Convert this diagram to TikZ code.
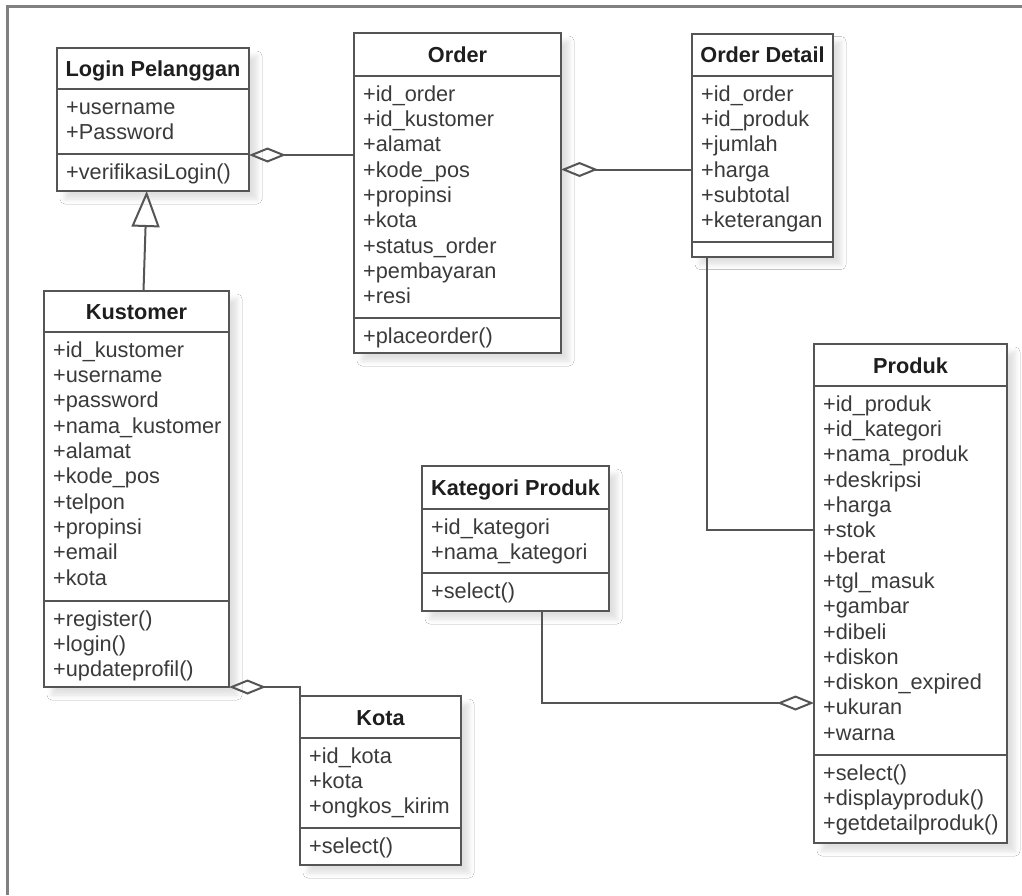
\documentclass[tikz,border=0pt]{standalone}
\usepackage{fontspec}
\setmainfont{Liberation Sans}
\usetikzlibrary{arrows.meta,fit,shadows.blur}

\definecolor{linec}{HTML}{555555}
\definecolor{framec}{HTML}{808080}
\definecolor{textc}{HTML}{3A3A3A}
\definecolor{titlec}{HTML}{1E1E1E}

\tikzset{
  classframe/.style={draw=linec, line width=2pt, fill=white, inner sep=0pt, outer sep=0pt,
    blur shadow={shadow xshift=8pt, shadow yshift=-8pt, shadow blur radius=5pt, shadow opacity=12}},
  classline/.style={draw=linec, line width=2pt},
  classtitle/.style={anchor=base, inner sep=0pt, font=\fontsize{21.7}{25.3}\selectfont\bfseries, text=titlec},
  classrow/.style={anchor=base west, inner sep=0pt, font=\fontsize{21.7}{25.3}\selectfont, text=textc},
  conn/.style={draw=linec, line width=2pt},
  framestyle/.style={draw=framec, line width=2.5pt},
  agg/.tip={Diamond[open, length=37pt, width=15pt]},
  gen/.tip={Triangle[open, length=36pt, width=28pt]},
}

% #1 name, #2 left, #3 top, #4 right, #5 bottom, #6 header rule, #7 operations rule, #8 title
\newcommand\umlclass[8]{%
  \node[classframe, fit={(#2,#3) (#4,#5)}] (#1) {};
  \draw[classline] (#2,#6) -- (#4,#6);
  \draw[classline] (#2,#7) -- (#4,#7);
  \node[classtitle] (#1-title) at ({(#2+#4)/2},{(#3+#6)/2+8}) {#8};
}
% #1 prefix, #2 left edge, #3 compartment top, #4 rows
\newcommand\umlrows[4]{%
  \foreach \rowtext [count=\i] in {#4}
    \node[classrow] (#1-\i) at ({#2+9},{#3+25.3*\i}) {\rowtext};
}

\begin{document}
\begin{tikzpicture}[x=1pt, y=-1pt]
  \useasboundingbox (0,0) rectangle (1022,895);
  \fill[white] (0,0) rectangle (1022,895);

  % outer frame (top and left edges)
  \draw[framestyle] (7.5,895) -- (7.5,6.5) -- (1022,6.5);

  % classes
  \umlclass{login}{57}{48}{249}{191}{89}{154}{Login Pelanggan}
  \umlrows{login-a}{57}{89}{+username,+Password}
  \umlrows{login-m}{57}{154}{+verifikasiLogin()}

  \umlclass{order}{354}{33}{561}{353}{76}{318}{Order}
  \umlrows{order-a}{354}{76}{+id\_order,+id\_kustomer,+alamat,+kode\_pos,+propinsi,+kota,+status\_order,+pembayaran,+resi}
  \umlrows{order-m}{354}{318}{+placeorder()}

  \umlclass{odetail}{692}{33.5}{833}{256.5}{76}{241.5}{Order Detail}
  \umlrows{odetail-a}{692}{76}{+id\_order,+id\_produk,+jumlah,+harga,+subtotal,+keterangan}

  \umlclass{kustomer}{44}{291}{229}{687}{332}{601}{Kustomer}
  \umlrows{kustomer-a}{44}{332}{+id\_kustomer,+username,+password,+nama\_kustomer,+alamat,+kode\_pos,+telpon,+propinsi,+email,+kota}
  \umlrows{kustomer-m}{44}{601}{+register(),+login(),+updateprofil()}

  \umlclass{kota}{300}{696}{461}{865}{738}{828}{Kota}
  \umlrows{kota-a}{300}{738}{+id\_kota,+kota,+ongkos\_kirim}
  \umlrows{kota-m}{300}{828}{+select()}

  \umlclass{kategori}{422}{466}{609}{611}{509}{573}{Kategori Produk}
  \umlrows{kategori-a}{422}{509}{+id\_kategori,+nama\_kategori}
  \umlrows{kategori-m}{422}{573}{+select()}

  \umlclass{produk}{814}{344}{1007}{843}{386}{755}{Produk}
  \umlrows{produk-a}{814}{386}{+id\_produk,+id\_kategori,+nama\_produk,+deskripsi,+harga,+stok,+berat,+tgl\_masuk,+gambar,+dibeli,+diskon,+diskon\_expired,+ukuran,+warna}
  \umlrows{produk-m}{814}{755}{+select(),+displayproduk(),+getdetailproduk()}

  % routing levels for connectors
  \coordinate (y155) at (0,155);
  \coordinate (y169) at (0,169.5);
  \coordinate (y530) at (0,530);
  \coordinate (y703) at (0,703);
  \coordinate (gx1) at (143.5,0);
  \coordinate (gx2) at (146.7,0);
  \coordinate (x707) at (707.3,0);
  \coordinate (x541) at (541.7,0);

  % associations
  \draw[conn, agg-] (login.east |- y155) -- (order.west |- y155);
  \draw[conn, agg-] (order.east |- y169) -- (odetail.west |- y169);
  \draw[conn, -gen] (kustomer.north -| gx1) -- (login.south -| gx2);
  \draw[conn, agg-] (kustomer.south east) -- (kustomer.south east -| kota.north west) -- (kota.north west);
  \draw[conn] (odetail.south -| x707) -- (x707 |- y530) -- (produk.west |- y530);
  \draw[conn, -agg] (kategori.south -| x541) -- (x541 |- y703) -- (produk.west |- y703);
\end{tikzpicture}
\end{document}
